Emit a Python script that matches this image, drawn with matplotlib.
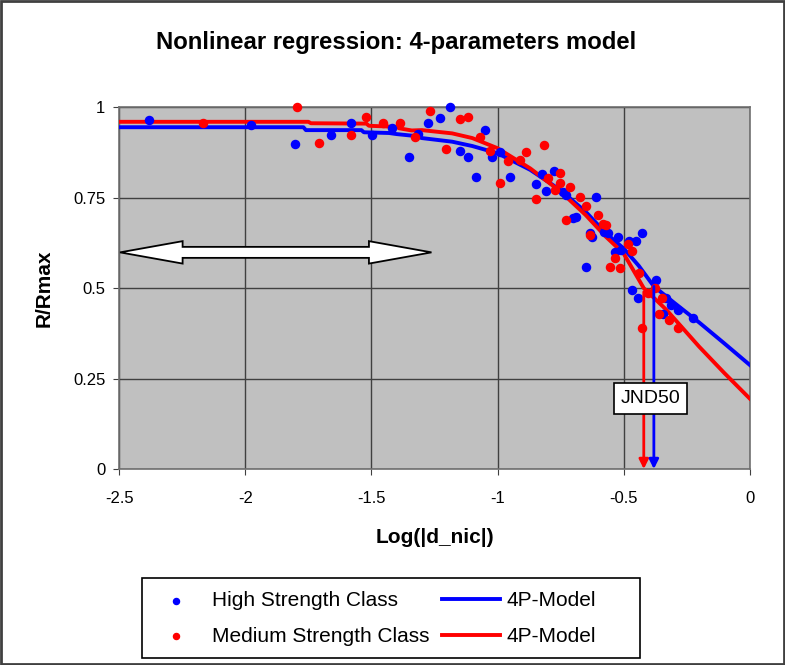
import matplotlib.pyplot as plt
import matplotlib.patches as patches

plt.rcParams['font.family'] = ['Liberation Sans', 'DejaVu Sans']

# Observed points (log|d_nic|, R/Rmax)
high_x = [-2.382, -1.979, -1.804, -1.662, -1.583, -1.496, -1.417, -1.353, -1.315, -1.274,
          -1.227, -1.187, -1.150, -1.116, -1.084, -1.051, -1.021, -0.989, -0.949, -0.846,
          -0.822, -0.806, -0.775, -0.741, -0.727, -0.701, -0.688, -0.648, -0.632, -0.624,
          -0.609, -0.576, -0.563, -0.536, -0.523, -0.509, -0.477, -0.466, -0.450, -0.444,
          -0.426, -0.371, -0.345, -0.331, -0.311, -0.285, -0.226]
high_y = [0.965, 0.951, 0.898, 0.923, 0.958, 0.923, 0.942, 0.863, 0.926, 0.958,
          0.970, 1.002, 0.880, 0.864, 0.808, 0.936, 0.864, 0.876, 0.808, 0.787,
          0.815, 0.769, 0.825, 0.767, 0.758, 0.693, 0.698, 0.559, 0.653, 0.642,
          0.753, 0.656, 0.653, 0.601, 0.642, 0.605, 0.631, 0.495, 0.631, 0.474,
          0.653, 0.523, 0.428, 0.472, 0.453, 0.440, 0.417]

med_x = [-2.167, -1.797, -1.710, -1.583, -1.520, -1.456, -1.385, -1.328, -1.266, -1.203,
         -1.147, -1.116, -1.068, -1.029, -0.989, -0.959, -0.912, -0.886, -0.846, -0.815,
         -0.800, -0.773, -0.754, -0.751, -0.730, -0.712, -0.672, -0.648, -0.632, -0.602,
         -0.582, -0.569, -0.553, -0.536, -0.513, -0.483, -0.466, -0.440, -0.426, -0.403,
         -0.377, -0.360, -0.347, -0.321, -0.285]
med_y = [0.957, 1.002, 0.902, 0.923, 0.974, 0.957, 0.957, 0.919, 0.991, 0.885,
         0.968, 0.974, 0.919, 0.879, 0.792, 0.852, 0.854, 0.876, 0.746, 0.896,
         0.805, 0.771, 0.792, 0.819, 0.688, 0.780, 0.753, 0.727, 0.647, 0.702,
         0.677, 0.675, 0.559, 0.583, 0.555, 0.622, 0.604, 0.543, 0.389, 0.486,
         0.500, 0.428, 0.472, 0.412, 0.389]

# 4P model curves
high_fit_x = [-2.5, -1.77, -1.76, -1.54, -1.53, -1.43, -1.40, -1.33, -1.30, -1.18, -1.10,
              -1.00, -0.87, -0.75, -0.65, -0.57, -0.50, -0.44, -0.38, -0.30, -0.20, -0.10, 0.0]
high_fit_y = [0.945, 0.945, 0.937, 0.937, 0.931, 0.929, 0.926, 0.921, 0.915, 0.905, 0.893,
              0.873, 0.827, 0.771, 0.711, 0.652, 0.610, 0.562, 0.505, 0.460, 0.405, 0.347, 0.288]
med_fit_x = [-2.5, -1.75, -1.74, -1.52, -1.51, -1.40, -1.39, -1.34, -1.30, -1.18, -1.10,
             -1.00, -0.87, -0.75, -0.65, -0.57, -0.50, -0.45, -0.42, -0.33, -0.20, -0.10, 0.0]
med_fit_y = [0.960, 0.960, 0.956, 0.955, 0.949, 0.946, 0.942, 0.936, 0.937, 0.928, 0.915,
             0.887, 0.831, 0.767, 0.702, 0.642, 0.596, 0.536, 0.500, 0.440, 0.338, 0.265, 0.195]

# JND50 positions
jnd_high = -0.380
jnd_med = -0.420

fig = plt.figure(figsize=(7.85, 6.65), dpi=100, facecolor='white')
ax = fig.add_axes([0.152, 0.2947, 0.803, 0.5439])
ax.set_facecolor('#C0C0C0')

ax.set_xlim(-2.5, 0)
ax.set_ylim(0, 1)
ax.set_xticks([-2.5, -2, -1.5, -1, -0.5, 0])
ax.set_xticklabels(['-2.5', '-2', '-1.5', '-1', '-0.5', '0'])
ax.set_yticks([0, 0.25, 0.5, 0.75, 1])
ax.set_yticklabels(['0', '0.25', '0.5', '0.75', '1'])
ax.grid(True, color='#404040', linewidth=1)
ax.set_axisbelow(True)
for s in ax.spines.values():
    s.set_color('#707070')
    s.set_linewidth(1.2)
ax.tick_params(labelsize=12, length=4, color='#404040')
ax.tick_params(axis='x', pad=12)
ax.tick_params(axis='y', pad=6)

# Model lines
hl, = ax.plot(high_fit_x, high_fit_y, color='#0000FF', lw=2.8, zorder=3)
ml, = ax.plot(med_fit_x, med_fit_y, color='#FF0000', lw=2.8, zorder=3)

# Data points
hs = ax.scatter(high_x, high_y, s=34, color='#0000FF', zorder=4, clip_on=False)
ms = ax.scatter(med_x, med_y, s=34, color='#FF0000', zorder=4, clip_on=False)

# JND50 arrows
ax.annotate('', xy=(jnd_med, 0.0), xytext=(jnd_med, 0.49),
            arrowprops=dict(arrowstyle='-|>', color='#FF0000', lw=2,
                            mutation_scale=14, shrinkA=0, shrinkB=0), zorder=5)
ax.annotate('', xy=(jnd_high, 0.0), xytext=(jnd_high, 0.505),
            arrowprops=dict(arrowstyle='-|>', color='#0000FF', lw=2,
                            mutation_scale=14, shrinkA=0, shrinkB=0), zorder=5)
ax.text(-0.393, 0.194, 'JND50', fontsize=14, ha='center', va='center', zorder=6,
        bbox=dict(boxstyle='square,pad=0.36', facecolor='white', edgecolor='black', lw=1.2))

# Double-headed block arrow
x0, x1, yc = -2.497, -1.262, 0.599
hl_len, sh, hh = 0.248, 0.0152, 0.031
arrow_pts = [(x0, yc), (x0 + hl_len, yc + hh), (x0 + hl_len, yc + sh),
             (x1 - hl_len, yc + sh), (x1 - hl_len, yc + hh), (x1, yc),
             (x1 - hl_len, yc - hh), (x1 - hl_len, yc - sh), (x0 + hl_len, yc - sh),
             (x0 + hl_len, yc - hh)]
ax.add_patch(patches.Polygon(arrow_pts, closed=True, facecolor='white',
                             edgecolor='black', lw=1.3, zorder=5))

ax.set_title('Nonlinear regression: 4-parameters model', fontsize=17.2,
             fontweight='bold', pad=42, x=0.439)
ax.set_xlabel('Log(|d_nic|)', fontsize=15, fontweight='bold', labelpad=16)
ax.set_ylabel('R/Rmax', fontsize=15, fontweight='bold', labelpad=14)

# Legend (frame drawn separately to match the fixed-size box)
fig.add_artist(patches.Rectangle((0.1809, 0.0105), 0.6344, 0.1203, transform=fig.transFigure,
                                 fill=False, edgecolor='black', lw=1.2))
leg = fig.legend([hs, ms, hl, ml],
                 ['High Strength Class', 'Medium Strength Class', '4P-Model', '4P-Model'],
                 ncol=2, loc='center left', bbox_to_anchor=(0.1873, 0.0699),
                 fontsize=15, frameon=False, borderpad=0, borderaxespad=0,
                 handlelength=2.8, handletextpad=0.3, columnspacing=0.6,
                 labelspacing=0.81, markerscale=0.75, scatterpoints=1)

# Chart area border
fig.add_artist(patches.Rectangle((0.0015, 0.002), 0.997, 0.996, transform=fig.transFigure,
                                 fill=False, edgecolor='#404040', lw=2))

fig.savefig('out.png', dpi=100)
